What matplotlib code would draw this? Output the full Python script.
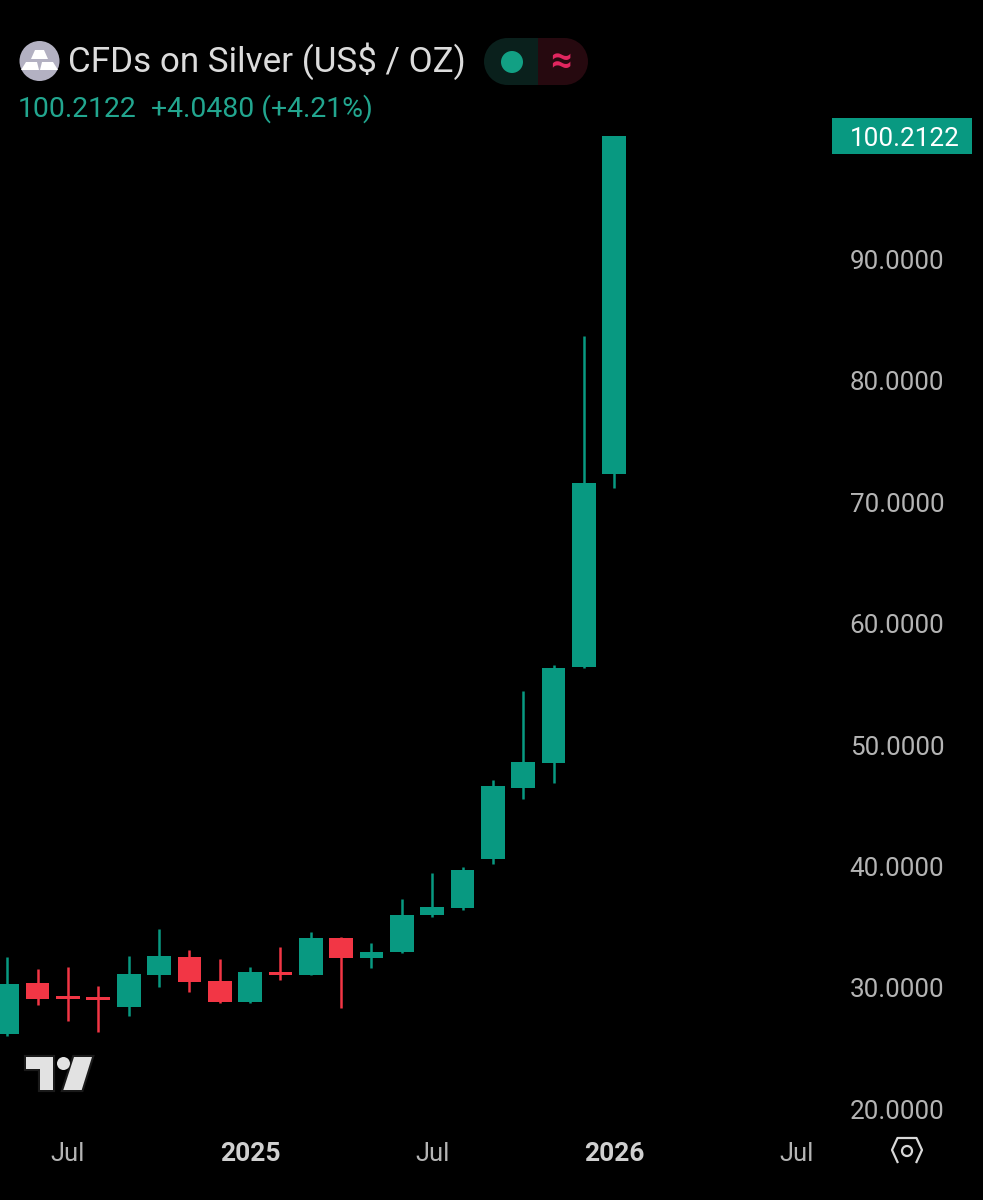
import numpy as np
from matplotlib import pyplot as plt
from matplotlib.patches import Circle, Polygon, Rectangle

plt.rcParams['font.family'] = ['Roboto', 'DejaVu Sans']

# monthly candles, May 2024 to Jan 2026
opens = [26.25, 30.49, 29.25, 29.20, 28.46, 31.12, 32.63, 30.63, 28.87, 31.37, 31.12,
         34.19, 32.55, 32.99, 36.04, 36.64, 40.68, 46.52, 48.58, 56.49, 72.39]
closes = [30.38, 29.13, 29.14, 29.05, 31.20, 32.71, 30.57, 28.87, 31.34, 31.12, 34.17,
          32.55, 33.04, 36.09, 36.75, 39.77, 46.69, 48.67, 56.40, 71.65, 100.21]
highs = [32.60, 31.60, 31.75, 30.24, 32.70, 34.89, 33.18, 32.41, 31.75, 33.45, 34.64,
         34.25, 33.79, 37.36, 39.50, 40.02, 47.18, 54.50, 56.65, 83.75, 100.21]
lows = [26.10, 28.63, 27.33, 26.45, 27.74, 30.16, 29.75, 28.79, 28.85, 30.70, 31.10,
        28.38, 31.67, 32.95, 35.90, 36.47, 40.26, 45.60, 46.90, 56.40, 71.24]

y_ticks = [20, 30, 40, 50, 60, 70, 80, 90]
x_tick_pos = [2, 8, 14, 20, 26]
x_tick_labels = ['Jul', '2025', 'Jul', '2026', 'Jul']
x_tick_bold = [False, True, False, True, False]
last_price = '100.2122'

GREEN = '#089981'
RED = '#f23645'
GREEN_TEXT = '#22a68f'
GREY = '#b4b4b4'

fig = plt.figure(figsize=(9.83, 12), dpi=100, facecolor='black')

ax = fig.add_axes([0, 0, 1, 1])
ax.set_facecolor('black')
ax.set_xlim(-0.24, 32.15)
ax.set_ylim(12.59, 111.43)
ax.axis('off')

x = np.arange(len(opens))
colors = [GREEN if c >= o else RED for o, c in zip(opens, closes)]
heights = [max(abs(c - o), 0.25) for o, c in zip(opens, closes)]
bottoms = [min(o, c) for o, c in zip(opens, closes)]

ax.vlines(x, lows, highs, colors=colors, linewidth=1.8, zorder=2)
ax.bar(x, heights, bottom=bottoms, width=0.78, color=colors, linewidth=0, zorder=3)

# price scale and time scale labels
price_tf = ax.get_yaxis_transform()
for v in y_ticks:
    ax.text(0.9125, v + 0.06, '%.4f' % v, transform=price_tf, color=GREY, fontsize=18.7,
            ha='center', va='center_baseline')

time_tf = ax.get_xaxis_transform()
for pos, label, bold in zip(x_tick_pos, x_tick_labels, x_tick_bold):
    ax.text(pos, 0.0408, label, transform=time_tf, color='#d0d0d0' if bold else GREY,
            fontsize=19 if bold else 18.4, fontweight='bold' if bold else 'normal',
            ha='center', va='center_baseline')

# overlay in pixel coordinates for the header and the little icons
ui = fig.add_axes([0, 0, 1, 1])
ui.set_xlim(0, 983)
ui.set_ylim(1200, 0)
ui.axis('off')
ui.patch.set_alpha(0)

ui.add_patch(Rectangle((832, 118), 140, 36, color=GREEN, linewidth=0))
ui.text(905, 145.5, last_price, color='white', fontsize=18.8, ha='center', va='baseline')

# symbol icon
ui.add_patch(Circle((39.5, 61), 20, color='#b3b1c2', linewidth=0))
for pts in [[(35, 50), (44, 50), (48, 59), (31, 59)],
            [(26, 62), (37, 62), (39, 70), (21, 70)],
            [(42, 62), (53, 62), (58, 70), (40, 70)]]:
    ui.add_patch(Polygon(pts, closed=True, color='white', linewidth=0))

ui.text(68, 72, 'CFDs on Silver (US$ / OZ)', color='#dcdcdc', fontsize=25.2,
        ha='left', va='baseline')
ui.text(18, 117, last_price, color=GREEN_TEXT, fontsize=20.4, ha='left', va='baseline')
ui.text(151, 117, '+4.0480 (+4.21%)', color=GREEN_TEXT, fontsize=20.4, ha='left', va='baseline')

# market status pill
ui.add_patch(Circle((507.5, 61.5), 23.5, color='#0a201c', linewidth=0, zorder=1))
ui.add_patch(Rectangle((507.5, 38), 30, 47, color='#0a201c', linewidth=0, zorder=2))
ui.add_patch(Circle((564.5, 61.5), 23.5, color='#26090f', linewidth=0, zorder=1))
ui.add_patch(Rectangle((537.5, 38), 27, 47, color='#26090f', linewidth=0, zorder=2))
ui.add_patch(Circle((512, 62), 11, color='#12a084', linewidth=0, zorder=3))
ui.text(561, 61, '≈', color='#e0265f', fontsize=27, fontweight='bold', ha='center',
        va='center', zorder=3)

# TradingView mark, dark halo first and the fill on top
halo = '#1a1a1a'
mark = [[(26, 1057), (52.5, 1057), (52.5, 1090), (39.5, 1090), (39.5, 1069), (26, 1069)],
        [(74, 1057), (92, 1057), (81.7, 1090), (63.3, 1090)]]
for pts in mark:
    ui.add_patch(Polygon(pts, closed=True, facecolor=halo, edgecolor=halo, linewidth=3, zorder=2))
    ui.add_patch(Polygon(pts, closed=True, facecolor='#e2e2e2', linewidth=0, zorder=3))
ui.add_patch(Circle((63.5, 1063.5), 6.5, facecolor='#e2e2e2', linewidth=0, zorder=3))

# settings hexagon, open at the bottom
hex_x = [897.5, 892, 897.5]
hex_y = [1162, 1150, 1138]
ui.plot(hex_x + [916.5, 922, 916.5], hex_y + [1138, 1150, 1162], color='#d8d8d8', linewidth=1.6,
        solid_joinstyle='round')
ui.add_patch(Circle((907, 1151), 5, facecolor='none', edgecolor='#d8d8d8', linewidth=1.6))

fig.savefig('out.png', dpi=100, facecolor='black')
